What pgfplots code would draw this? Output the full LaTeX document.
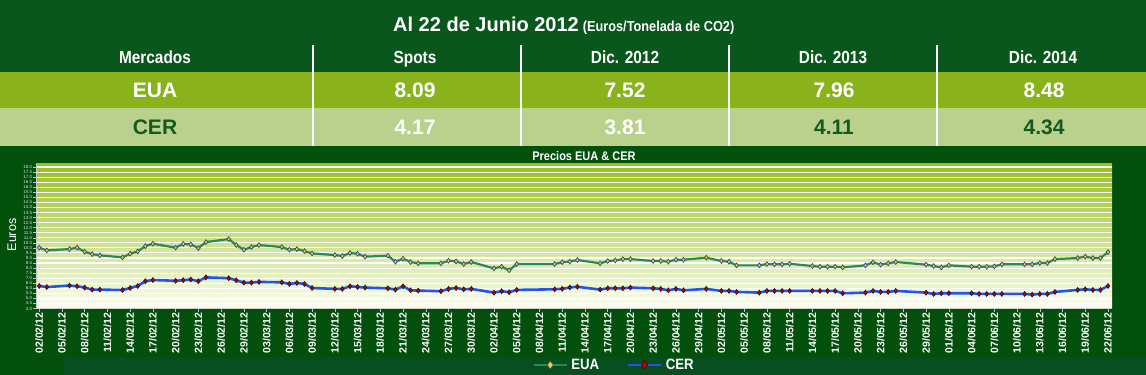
\documentclass[border=0pt]{standalone}
\usepackage{fontspec}
\setmainfont{Liberation Sans}
\newfontfamily\nar[FakeStretch=0.88]{Liberation Sans}
\usepackage{pgfplots}
\pgfplotsset{compat=1.18}
\usepackage{pgfplotstable}

\definecolor{topgreen}{RGB}{10,87,29}
\definecolor{olive}{RGB}{138,178,27}
\definecolor{lightrow}{RGB}{185,209,140}
\definecolor{chartbg}{RGB}{2,80,12}
\definecolor{legbg}{RGB}{8,78,30}
\definecolor{cerdark}{RGB}{20,90,30}
\definecolor{ptop}{RGB}{150,194,28}
\definecolor{pmid}{RGB}{203,225,145}
\definecolor{pbot}{RGB}{252,253,242}
\definecolor{eualine}{RGB}{40,140,80}
\definecolor{cerline}{RGB}{35,85,235}
\definecolor{euafill}{RGB}{230,210,60}
\definecolor{euadraw}{RGB}{60,70,120}
\definecolor{cerfill}{RGB}{200,0,0}
\definecolor{cerdraw}{RGB}{40,20,30}

\pgfplotstableread{
d v
0 10.02
1 9.75
4 9.88
5 10.02
6 9.62
7 9.38
8 9.26
11 9.06
12 9.42
13 9.65
14 10.17
15 10.41
18 10.02
19 10.39
20 10.34
21 9.98
22 10.57
25 10.87
26 10.28
27 9.82
28 10.08
29 10.28
32 10.08
33 9.82
34 9.88
35 9.68
36 9.45
39 9.29
40 9.19
41 9.49
42 9.42
43 9.13
46 9.22
47 8.63
48 8.93
49 8.60
50 8.47
53 8.47
54 8.73
55 8.66
56 8.40
57 8.60
60 7.97
61 8.14
62 7.78
63 8.40
68 8.40
69 8.58
70 8.64
71 8.80
74 8.47
75 8.70
76 8.76
77 8.89
78 8.89
81 8.70
82 8.70
83 8.63
84 8.83
85 8.83
88 9.03
90 8.70
91 8.63
92 8.27
95 8.27
96 8.40
97 8.37
98 8.37
99 8.43
102 8.20
103 8.14
104 8.14
105 8.14
106 8.07
109 8.27
110 8.57
111 8.34
112 8.47
113 8.60
117 8.34
118 8.20
119 8.07
120 8.27
123 8.14
124 8.14
125 8.14
126 8.17
127 8.37
130 8.37
131 8.37
132 8.50
133 8.50
134 8.89
137 8.99
138 9.13
139 8.99
140 8.99
141 9.58
}\eua

\pgfplotstableread{
d v
0 6.23
1 6.12
4 6.27
5 6.20
6 6.07
7 5.87
8 5.87
11 5.83
12 6.03
13 6.23
14 6.70
15 6.82
18 6.74
19 6.80
20 6.87
21 6.70
22 7.08
25 7.00
26 6.79
27 6.56
28 6.56
29 6.63
32 6.59
33 6.43
34 6.53
35 6.43
36 6.03
39 5.94
40 5.94
41 6.20
42 6.13
43 6.07
46 6.00
47 5.87
48 6.20
49 5.80
50 5.77
53 5.71
54 5.94
55 6.03
56 5.90
57 5.94
60 5.57
61 5.71
62 5.61
63 5.84
68 5.90
69 5.95
70 6.08
71 6.15
74 5.87
75 6.00
76 6.00
77 6.00
78 6.07
81 6.00
82 5.94
83 5.80
84 5.94
85 5.80
88 5.94
90 5.74
91 5.74
92 5.64
95 5.57
96 5.74
97 5.74
98 5.74
99 5.74
102 5.74
103 5.74
104 5.74
105 5.74
106 5.51
109 5.57
110 5.74
111 5.64
112 5.64
113 5.74
117 5.57
118 5.44
119 5.51
120 5.51
123 5.51
124 5.44
125 5.44
126 5.44
127 5.44
130 5.44
131 5.38
132 5.44
133 5.44
134 5.64
137 5.84
138 5.90
139 5.84
140 5.84
141 6.23
}\cer

\begin{document}
\begin{tikzpicture}
\useasboundingbox (0,0) rectangle (1146bp,375bp);
% backgrounds
\fill[chartbg] (0,0) rectangle (1146bp,229bp);
\fill[legbg] (63bp,0) rectangle (1146bp,18bp);
\fill[topgreen] (0,303bp) rectangle (1146bp,375bp);
\fill[olive] (0,267bp) rectangle (1146bp,303bp);
\fill[lightrow] (0,229bp) rectangle (1146bp,267bp);
% separators
\foreach \sx in {313,521,729,937}{
  \draw[white,line width=1.5bp] (\sx bp,229bp) -- (\sx bp,330bp);
}
% title
\node[anchor=base west,inner sep=0pt,text=white] at (393bp,343.3bp)
  {\fontsize{20bp}{24bp}\selectfont\bfseries Al 22 de Junio 2012\hspace{4bp}\nar\fontsize{14.5bp}{17bp}\selectfont (Euros/Tonelada de CO2)};
% header row
\begin{scope}[every node/.style={anchor=base,inner sep=0pt,text=white,font=\nar\bfseries\fontsize{17.5bp}{20bp}\selectfont}]
\node at (155bp,311bp) {Mercados};
\node at (415bp,311bp) {Spots};
\node at (625bp,311bp) {Dic. 2012};
\node at (833bp,311bp) {Dic. 2013};
\node at (1043bp,311bp) {Dic. 2014};
\end{scope}
% EUA / CER rows
\begin{scope}[every node/.style={anchor=base,inner sep=0pt,font=\bfseries\fontsize{21bp}{24bp}\selectfont}]
\node[text=white] at (155bp,277.3bp) {EUA};
\node[text=white] at (415bp,277.3bp) {8.09};
\node[text=white] at (625bp,277.3bp) {7.52};
\node[text=white] at (834bp,277.3bp) {7.96};
\node[text=white] at (1044bp,277.3bp) {8.48};
\node[text=cerdark] at (155bp,240.7bp) {CER};
\node[text=white] at (415bp,240.7bp) {4.17};
\node[text=white] at (625bp,240.7bp) {3.81};
\node[text=cerdark] at (834bp,240.7bp) {4.11};
\node[text=cerdark] at (1044bp,240.7bp) {4.34};
\end{scope}
% chart title
\node[anchor=base,inner sep=0pt,text=white,font=\nar\bfseries\fontsize{12.5bp}{14bp}\selectfont] at (584bp,214bp) {Precios EUA \& CER};
% y label
\node[rotate=90,inner sep=0pt,text=white,font=\fontsize{12.5bp}{14bp}\selectfont] at (12bp,140bp) {Euros};

\begin{axis}[
  at={(36bp,66.5bp)}, anchor=south west,
  scale only axis, width=1076bp, height=144.5bp,
  xmin=-0.42, xmax=141.53, ymin=4, ymax=18.3,
  axis x line*=bottom, axis y line*=left,
  axis line style={white!80!black,line width=0.5bp},
  tick align=outside, major tick length=3bp,
  tick style={white!75!black,line width=0.5bp},
  axis background/.style={top color=ptop, middle color=pmid, bottom color=pbot},
  ymajorgrids, major grid style={white,line width=1.1bp},
  ytick={4,4.5,...,18},
  /pgf/number format/assume math mode=true,
  yticklabel style={/pgf/number format/fixed,/pgf/number format/fixed zerofill,/pgf/number format/precision=1,
    font=\fontsize{4.5bp}{5bp}\selectfont, text=white!85!black, inner sep=0.6bp},
  xtick={0,3,...,141},
  xticklabels={02/02/12,05/02/12,08/02/12,11/02/12,14/02/12,17/02/12,20/02/12,23/02/12,26/02/12,29/02/12,03/03/12,06/03/12,09/03/12,12/03/12,15/03/12,18/03/12,21/03/12,24/03/12,27/03/12,30/03/12,02/04/12,05/04/12,08/04/12,11/04/12,14/04/12,17/04/12,20/04/12,23/04/12,26/04/12,29/04/12,02/05/12,05/05/12,08/05/12,11/05/12,14/05/12,17/05/12,20/05/12,23/05/12,26/05/12,29/05/12,01/06/12,04/06/12,07/06/12,10/06/12,13/06/12,16/06/12,19/06/12,22/06/12},
  xticklabel style={rotate=90,anchor=east,text=white,inner sep=1bp,
    font=\bfseries\fontsize{10.5bp}{11bp}\selectfont},
  legend columns=2,
  legend style={at={(axis description cs:0.538,-0.391)},anchor=center,draw=none,fill=none,
    text=white,font=\nar\bfseries\fontsize{15bp}{17bp}\selectfont,
    nodes={inner sep=3.5bp},
    /tikz/every even column/.append style={column sep=24bp}},
  legend image code/.code={\draw[mark repeat=2,mark phase=2,#1,mark size=4.2bp] plot coordinates {(0bp,0bp) (16.5bp,0bp) (33bp,0bp)};},
]
\addplot[eualine,line width=2.2bp,mark=diamond*,mark size=2.4bp,
  mark options={fill=euafill,draw=euadraw,line width=0.7bp,solid}]
  table[x=d,y=v]{\eua};
\addlegendentry{EUA}
\addplot[cerline,line width=2.6bp,mark=diamond*,mark size=2.4bp,
  mark options={fill=cerfill,draw=cerdraw,line width=0.7bp,solid}]
  table[x=d,y=v]{\cer};
\addlegendentry{CER}
\end{axis}
\end{tikzpicture}
\end{document}
